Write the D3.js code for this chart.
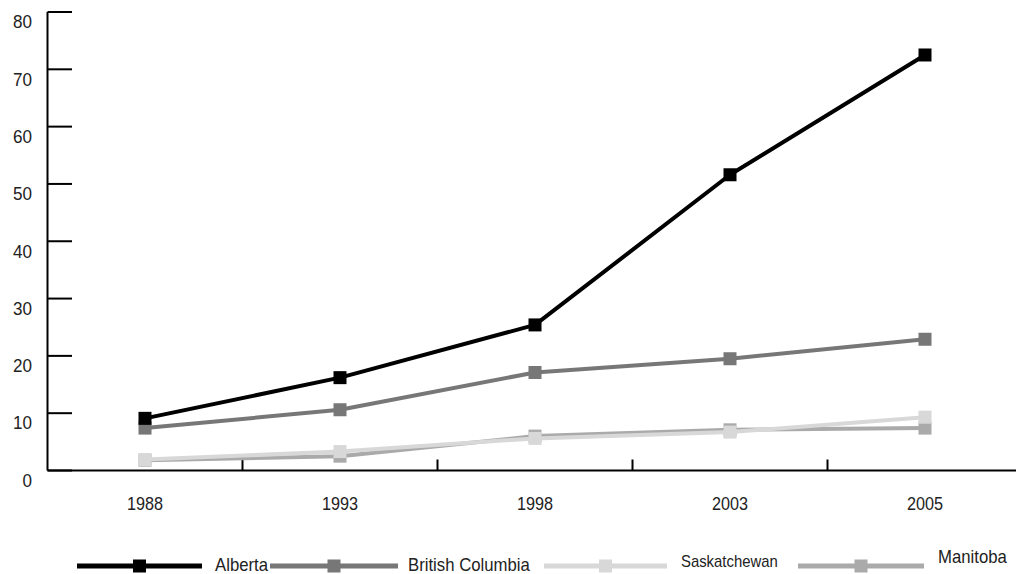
<!DOCTYPE html>
<html>
<head>
<meta charset="utf-8">
<script src="https://cdn.jsdelivr.net/npm/d3@7"></script>
<style>
html,body{margin:0;padding:0;background:#fff;}
svg{display:block;}
text{font-family:"Liberation Sans",Arial,sans-serif;fill:#222;}
</style>
</head>
<body>
<svg id="chart" width="1016" height="574"></svg>
<script>
// ---- data ----
const years = ["1988", "1993", "1998", "2003", "2005"];
const alberta = [9.1, 16.2, 25.4, 51.6, 72.5];
const britishColumbia = [7.4, 10.6, 17.1, 19.5, 22.9];
const saskatchewan = [1.9, 3.3, 5.6, 6.7, 9.3];
const manitoba = [1.8, 2.5, 6.0, 7.1, 7.4];
const yTicks = [0, 10, 20, 30, 40, 50, 60, 70, 80];
const seriesNames = ["Alberta", "British Columbia", "Saskatchewan", "Manitoba"];

const series = [
  {name: seriesNames[0], values: alberta, color: "#000000"},
  {name: seriesNames[1], values: britishColumbia, color: "#777777"},
  {name: seriesNames[2], values: saskatchewan, color: "#d8d8d8"},
  {name: seriesNames[3], values: manitoba, color: "#aaaaaa"}
];

const svg = d3.select("#chart");
const x = d3.scaleBand().domain(years).range([47.5, 1022.5]).padding(0);
const y = d3.scaleLinear().domain([0, 80]).range([470.5, 12]);
const SX = 0.9; // narrow-font emulation

// y axis
svg.append("line").attr("x1", 47.5).attr("x2", 47.5).attr("y1", y(80)).attr("y2", y(0))
  .attr("stroke", "#000").attr("stroke-width", 2);
const yt = svg.append("g");
yt.selectAll("line").data(yTicks).join("line")
  .attr("x1", 47.5).attr("x2", 72).attr("y1", d => y(d)).attr("y2", d => y(d))
  .attr("stroke", "#000").attr("stroke-width", 2);
yt.selectAll("text").data(yTicks).join("text")
  .attr("transform", d => `translate(32,${y(d) + 10}) scale(0.95,1)`)
  .attr("dy", "0.35em").attr("text-anchor", "end")
  .style("font-size", "18px").text(d => d);

// x axis
svg.append("line").attr("x1", 47.5).attr("x2", 1016).attr("y1", y(0)).attr("y2", y(0))
  .attr("stroke", "#000").attr("stroke-width", 2);
const xt = svg.append("g");
xt.selectAll("line").data(years.slice(1)).join("line")
  .attr("x1", d => x(d)).attr("x2", d => x(d)).attr("y1", y(0)).attr("y2", y(0) - 11)
  .attr("stroke", "#000").attr("stroke-width", 2);
xt.selectAll("text").data(years).join("text")
  .attr("transform", d => `translate(${x(d) + x.bandwidth() / 2},504) scale(${SX},1)`)
  .attr("dy", "0.35em").attr("text-anchor", "middle")
  .style("font-size", "18px").text(d => d);

// lines (draw order: Manitoba, Saskatchewan, BC, Alberta)
const line = d3.line().x((d, i) => x(years[i]) + x.bandwidth() / 2).y(d => y(d));
const drawOrder = [3, 2, 1, 0];
const ms = 13;
drawOrder.forEach(k => {
  const s = series[k];
  const g = svg.append("g");
  g.append("path").datum(s.values).attr("d", line).attr("fill", "none")
    .attr("stroke", s.color).attr("stroke-width", 4).attr("stroke-linejoin", "round");
  g.selectAll("rect").data(s.values).join("rect")
    .attr("x", (d, i) => x(years[i]) + x.bandwidth() / 2 - ms / 2)
    .attr("y", d => y(d) - ms / 2)
    .attr("width", ms).attr("height", ms).attr("fill", s.color);
});

// legend
const legendLayout = [
  {x0: 77, x1: 202, tx: 215, ty: 565, fs: 18},
  {x0: 270, x1: 398, tx: 408, ty: 565, fs: 18},
  {x0: 544, x1: 667, tx: 681, ty: 561, fs: 16},
  {x0: 798, x1: 924, tx: 938, ty: 557, fs: 18}
];
const ly = 566;
series.forEach((s, i) => {
  const L = legendLayout[i];
  const g = svg.append("g");
  g.append("line").attr("x1", L.x0).attr("x2", L.x1).attr("y1", ly).attr("y2", ly)
    .attr("stroke", s.color).attr("stroke-width", 5);
  g.append("rect").attr("x", (L.x0 + L.x1) / 2 - ms / 2).attr("y", ly - ms / 2)
    .attr("width", ms).attr("height", ms).attr("fill", s.color);
  g.append("text").attr("transform", `translate(${L.tx},${L.ty}) scale(0.93,1)`)
    .attr("dy", "0.35em").style("font-size", L.fs + "px").text(s.name);
});
</script>
</body>
</html>
